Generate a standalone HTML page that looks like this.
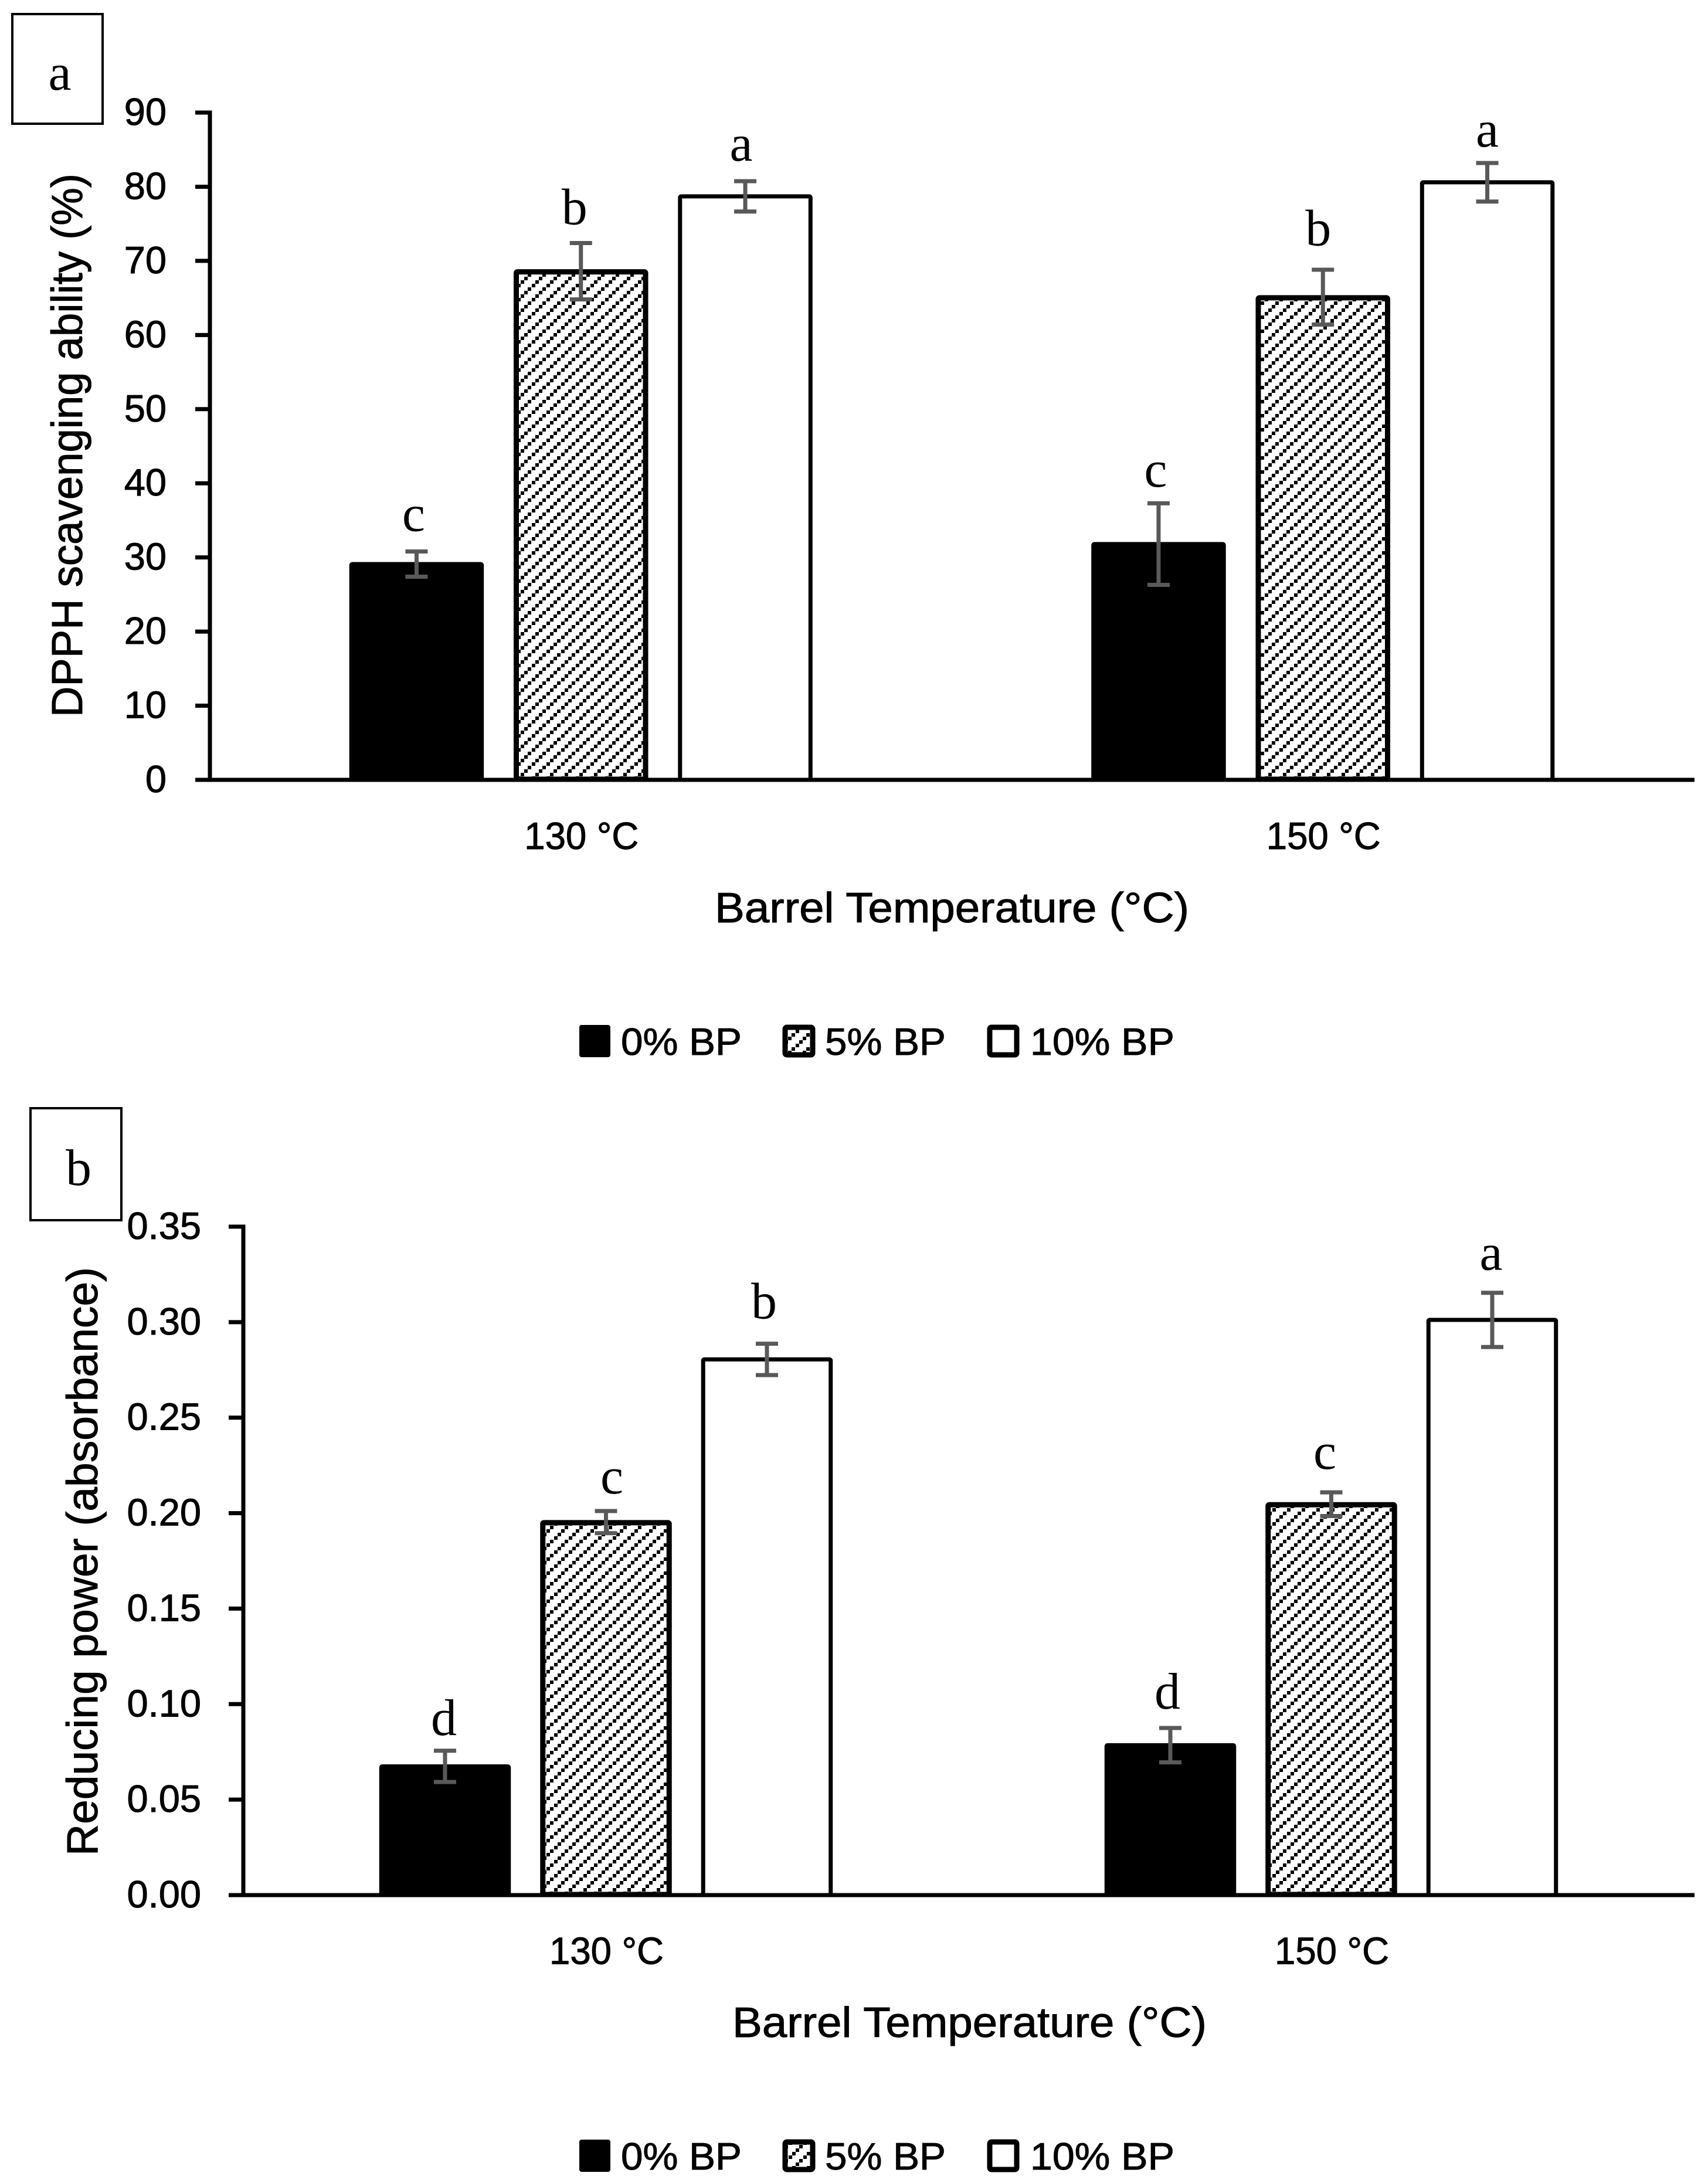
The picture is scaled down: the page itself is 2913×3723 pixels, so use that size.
<!DOCTYPE html>
<html lang="en">
<head>
<meta charset="utf-8">
<title>DPPH scavenging ability and reducing power bar charts</title>
<style>
html,body{margin:0;padding:0;background:#fff;}
svg{display:block;}
.sans{font-family:"Liberation Sans",sans-serif;fill:#000;stroke:#000;stroke-width:1;}
.serif{font-family:"Liberation Serif",serif;fill:#000;}
</style>
</head>
<body>
<svg id="fig" xmlns="http://www.w3.org/2000/svg" width="2913" height="3723" viewBox="0 0 2913 3723">
  <defs>
    <pattern id="hatch-a" patternUnits="userSpaceOnUse" x="0" y="10" width="25" height="24" shape-rendering="crispEdges">
      <rect x="0" y="0" width="25" height="24" fill="#fff"/>
      <rect x="0" y="0" width="6" height="6" fill="#000"/>
      <rect x="19" y="6" width="6" height="6" fill="#000"/>
      <rect x="13" y="12" width="6" height="6" fill="#000"/>
      <rect x="7" y="18" width="6" height="6" fill="#000"/>
    </pattern>
    <pattern id="hatch-b" patternUnits="userSpaceOnUse" x="13" y="10" width="25" height="24" shape-rendering="crispEdges">
      <rect x="0" y="0" width="25" height="24" fill="#fff"/>
      <rect x="0" y="0" width="6" height="6" fill="#000"/>
      <rect x="19" y="6" width="6" height="6" fill="#000"/>
      <rect x="13" y="12" width="6" height="6" fill="#000"/>
      <rect x="7" y="18" width="6" height="6" fill="#000"/>
    </pattern>
  </defs>
  <rect x="0" y="0" width="2913" height="3723" fill="#fff"/>

  <g id="panel-a">
    <rect x="21" y="24" width="154" height="187" fill="#fff" stroke="#000" stroke-width="4"/>
    <text class="serif" x="102" y="153" font-size="88" text-anchor="middle">a</text>
    <text class="sans" transform="translate(140,1223) rotate(-90)" font-size="74" textLength="927" lengthAdjust="spacingAndGlyphs">DPPH scavenging ability (%)</text>
    <text class="sans" x="1219" y="1573" font-size="72" textLength="809" lengthAdjust="spacingAndGlyphs">Barrel Temperature (°C)</text>
    <g>
      <rect x="988" y="1748" width="53" height="55" rx="4" fill="#000"/>
      <text class="sans" x="1059" y="1799" font-size="65" textLength="206" lengthAdjust="spacingAndGlyphs">0% BP</text>
      <rect x="1339" y="1752" width="47" height="47" rx="3" fill="url(#hatch-a)" stroke="#000" stroke-width="9"/>
      <text class="sans" x="1407" y="1799" font-size="65" textLength="206" lengthAdjust="spacingAndGlyphs">5% BP</text>
      <rect x="1688" y="1752" width="46" height="47" rx="3" fill="#fff" stroke="#000" stroke-width="9"/>
      <text class="sans" x="1757" y="1799" font-size="65" textLength="246" lengthAdjust="spacingAndGlyphs">10% BP</text>
    </g>
  </g>

  <g id="panel-b">
    <rect x="52" y="1890" width="155" height="191" fill="#fff" stroke="#000" stroke-width="4"/>
    <text class="serif" x="134" y="2021" font-size="88" text-anchor="middle">b</text>
    <text class="sans" transform="translate(166,3165) rotate(-90)" font-size="74" textLength="1004" lengthAdjust="spacingAndGlyphs">Reducing power (absorbance)</text>
    <text class="sans" x="1249" y="3474" font-size="72" textLength="809" lengthAdjust="spacingAndGlyphs">Barrel Temperature (°C)</text>
    <g>
      <rect x="988" y="3649" width="53" height="55" rx="4" fill="#000"/>
      <text class="sans" x="1059" y="3700" font-size="65" textLength="206" lengthAdjust="spacingAndGlyphs">0% BP</text>
      <rect x="1339" y="3653" width="47" height="47" rx="3" fill="url(#hatch-b)" stroke="#000" stroke-width="9"/>
      <text class="sans" x="1407" y="3700" font-size="65" textLength="206" lengthAdjust="spacingAndGlyphs">5% BP</text>
      <rect x="1688" y="3653" width="46" height="47" rx="3" fill="#fff" stroke="#000" stroke-width="9"/>
      <text class="sans" x="1757" y="3700" font-size="65" textLength="246" lengthAdjust="spacingAndGlyphs">10% BP</text>
    </g>
  </g>
</svg>

<script>
// Shared categories and series
const categories = ['130 °C', '150 °C'];
const seriesNames = ['0-bp', '5-bp', '10-bp'];

// Panel a: DPPH scavenging ability (%)
const yTicksA = [0, 10, 20, 30, 40, 50, 60, 70, 80, 90];
const yTickLabelsA = ['0', '10', '20', '30', '40', '50', '60', '70', '80', '90'];
const bp0MeansA = [29.1, 31.8];
const bp5MeansA = [68.6, 65.1];
const bp10MeansA = [78.7, 80.6];
const bp0ErrorsA = [1.7, 5.5];
const bp5ErrorsA = [3.8, 3.7];
const bp10ErrorsA = [2.05, 2.6];
const bp0LettersA = ['c', 'c'];
const bp5LettersA = ['b', 'b'];
const bp10LettersA = ['a', 'a'];

// Panel b: Reducing power (absorbance)
const yTicksB = [0, 0.05, 0.10, 0.15, 0.20, 0.25, 0.30, 0.35];
const yTickLabelsB = ['0.00', '0.05', '0.10', '0.15', '0.20', '0.25', '0.30', '0.35'];
const bp0MeansB = [0.0674, 0.0785];
const bp5MeansB = [0.1953, 0.2047];
const bp10MeansB = [0.2805, 0.3012];
const bp0ErrorsB = [0.0082, 0.0090];
const bp5ErrorsB = [0.0058, 0.0062];
const bp10ErrorsB = [0.0082, 0.0142];
const bp0LettersB = ['d', 'd'];
const bp5LettersB = ['c', 'c'];
const bp10LettersB = ['b', 'a'];

const NS = 'http://www.w3.org/2000/svg';

function make(parent, tag, attrs, text) {
  const node = document.createElementNS(NS, tag);
  for (const key in attrs) node.setAttribute(key, attrs[key]);
  if (text !== undefined) node.textContent = text;
  parent.appendChild(node);
  return node;
}

function drawChart(parent, c) {
  const yScale = v => c.y0 - (v - c.vMin) / (c.vMax - c.vMin) * (c.y0 - c.yTop);
  const xCenter = i => c.x0 + c.band * (i + 0.5);
  const fills = ['#000', c.hatch, '#fff'];
  const strokeWidths = [7, 9, 7];

  const plot = make(parent, 'g', {});
  
  

  c.series.forEach((s, si) => {
    s.means.forEach((m, gi) => {
      const cx = xCenter(gi) + (si - 1) * c.step;
      const sw = strokeWidths[si];
      const top = yScale(m) - 3.5 + sw / 2;
      const bottom = c.y0 + 3.5 - sw / 2;
      const bar = make(plot, 'rect', {
        x: cx - c.barOuter / 2 + sw / 2,
        y: top,
        width: c.barOuter - sw,
        height: bottom - top,
        rx: 2,
        fill: fills[si],
        stroke: '#000',
        'stroke-width': sw
      });
      
      
    });
  });

  const axisGroup = make(parent, 'g', {});
  
  

  const xLine = make(axisGroup, 'line', { x1: c.x0 - 3, x2: c.xEnd, y1: c.y0, y2: c.y0, stroke: '#000', 'stroke-width': 7 });
  
  

  const yLine = make(axisGroup, 'line', { x1: c.x0, x2: c.x0, y1: c.yTop - 3.5, y2: c.y0 + 3.5, stroke: '#000', 'stroke-width': 7 });
  
  

  c.ticks.forEach((t, i) => {
    const y = yScale(t);
    const tick = make(axisGroup, 'line', { x1: c.x0 - 25, x2: c.x0, y1: y, y2: y, stroke: '#000', 'stroke-width': 7 });
    
    
    const label = make(axisGroup, 'text', { class: 'sans', x: c.tickLabelRight, y: y + 21, 'font-size': 65, 'text-anchor': 'end' }, c.tickLabels[i]);
    
    
  });

  categories.forEach((name, gi) => {
    const label = make(axisGroup, 'text', {
      class: 'sans',
      x: xCenter(gi) + 1 - 97.5,
      y: c.catBaseline,
      'font-size': 65,
      textLength: 195,
      lengthAdjust: 'spacingAndGlyphs'
    }, name);
    
    
  });

  const errorGroup = make(parent, 'g', {});
  
  

  c.series.forEach((s, si) => {
    s.means.forEach((m, gi) => {
      const cx = xCenter(gi) + (si - 1) * c.step;
      const hi = yScale(m + s.errors[gi]);
      const lo = yScale(m - s.errors[gi]);
      const eb = make(errorGroup, 'path', {
        d: 'M' + (cx - 19) + ' ' + hi + 'H' + (cx + 19) + 'M' + cx + ' ' + hi + 'V' + lo + 'M' + (cx - 19) + ' ' + lo + 'H' + (cx + 19),
        fill: 'none',
        stroke: '#595959',
        'stroke-width': 7
      });
      
      

      const letter = make(errorGroup, 'text', {
        class: 'serif',
        x: cx + s.letterShift[gi],
        y: hi - s.letterLift[gi],
        'font-size': 88,
        'text-anchor': 'middle'
      }, s.letters[gi]);
      
      
    });
  });
}

drawChart(document.getElementById('panel-a'), {
  x0: 358, xEnd: 2890, band: 1265.5, step: 280.3, barOuter: 229.5,
  y0: 1330, yTop: 192, vMin: 0, vMax: 90, hatch: 'url(#hatch-a)',
  ticks: yTicksA, tickLabels: yTickLabelsA,
  tickLabelRight: 284, catBaseline: 1448,
  series: [
    { means: bp0MeansA, errors: bp0ErrorsA, letters: bp0LettersA, letterShift: [-5, -5], letterLift: [35, 28.5] },
    { means: bp5MeansA, errors: bp5ErrorsA, letters: bp5LettersA, letterShift: [-11, -8], letterLift: [32, 41.5] },
    { means: bp10MeansA, errors: bp10ErrorsA, letters: bp10LettersA, letterShift: [-7, 0], letterLift: [35, 28] }
  ]
});

drawChart(document.getElementById('panel-b'), {
  x0: 415, xEnd: 2890, band: 1237, step: 274.5, barOuter: 224.5,
  y0: 3232, yTop: 2092, vMin: 0, vMax: 0.35, hatch: 'url(#hatch-b)',
  ticks: yTicksB, tickLabels: yTickLabelsB,
  tickLabelRight: 343, catBaseline: 3349.5,
  series: [
    { means: bp0MeansB, errors: bp0ErrorsB, letters: bp0LettersB, letterShift: [-2, -5], letterLift: [27, 33] },
    { means: bp5MeansB, errors: bp5ErrorsB, letters: bp5LettersB, letterShift: [10, -11], letterLift: [30, 40] },
    { means: bp10MeansB, errors: bp10ErrorsB, letters: bp10LettersB, letterShift: [-5, -2], letterLift: [43, 39] }
  ]
});
</script>
</body>
</html>
